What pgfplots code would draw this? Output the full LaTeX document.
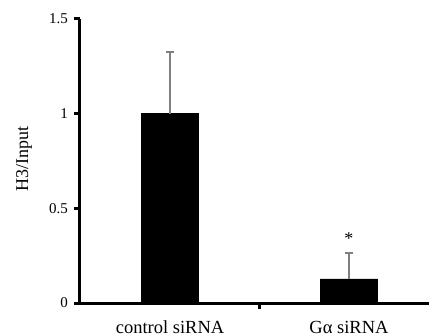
\documentclass[border=0pt]{standalone}
\usepackage{fontspec}
\setmainfont{Liberation Serif}
\usepackage{pgfplots}
\pgfplotsset{compat=1.18}
\begin{document}
\begin{tikzpicture}
\useasboundingbox (-80bp,-33bp) rectangle (349bp,303bp);
\begin{axis}[
  at={(0,0)}, anchor=south west,
  scale only axis, width=349bp, height=284bp,
  xmin=0.497, xmax=2.447, ymin=0, ymax=1.5,
  clip=false,
  axis x line=bottom, axis y line=left,
  axis line style={line width=3bp, -},
  tick align=outside, major tick length=6bp,
  ytick style={line width=3bp, draw=black},
  ytick={0,0.5,1,1.5},
  /pgf/number format/assume math mode=true,
  yticklabel style={font=\fontsize{15bp}{17bp}\selectfont, anchor=east, inner sep=0pt, xshift=-6bp},
  xtick={1,2},
  xticklabels={control siRNA, Gα siRNA},
  xtick style={draw=none},
  xticklabel style={font=\fontsize{18.5bp}{20bp}\selectfont, anchor=base, inner sep=0pt, yshift=-24bp},
  extra x ticks={1.5},
  extra x tick labels={},
  extra x tick style={xtick style={draw=black, line width=3bp}},
  ylabel={H3/Input},
  ylabel style={font=\fontsize{18bp}{20bp}\selectfont, at={(axis description cs:-0.1605,0.507)}, anchor=center, rotate=0},
]
\addplot[ybar, bar width=57bp, fill=black, draw=black,
  error bars/.cd, y dir=plus, y explicit,
  error bar style={draw=gray, line width=1.8bp},
  error mark options={rotate=90, mark size=4bp, line width=1.8bp, draw=gray}]
  coordinates {(1,1.0) +- (0,0.324) (2,0.127) +- (0,0.139)};
\node[font=\fontsize{18bp}{20bp}\selectfont, anchor=base, inner sep=0pt] at (axis cs:2,0.308) {*};
\end{axis}
\end{tikzpicture}
\end{document}
